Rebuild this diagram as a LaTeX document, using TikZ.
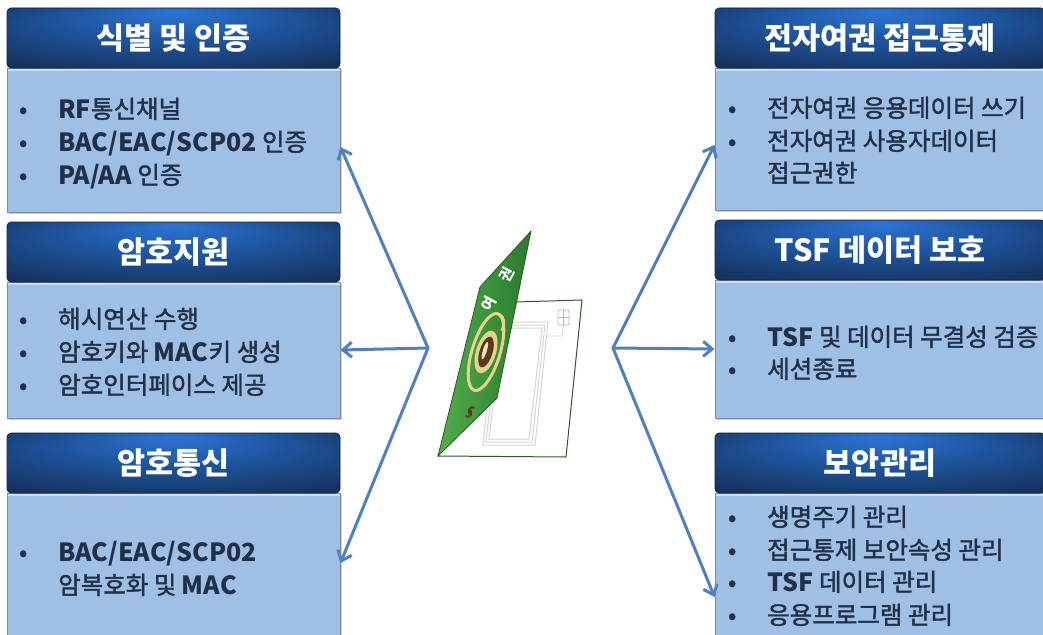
\documentclass[tikz,border=0pt]{standalone}
\usepackage{fontspec}
\setmainfont{Noto Sans CJK KR}
\newfontfamily\krm{Noto Sans CJK KR}[FakeBold=1.6]
\usetikzlibrary{arrows.meta,shadows}

\definecolor{hdEdge}{HTML}{15305A}
\definecolor{hdMid}{HTML}{2D74D2}
\definecolor{hdMid2}{HTML}{1F56A0}
\definecolor{bodyc}{HTML}{A0BFE5}
\definecolor{bodyhi}{HTML}{CADDF3}
\definecolor{bodyline}{HTML}{858A92}
\definecolor{txtc}{HTML}{1F3048}
\definecolor{arrc}{HTML}{4F81BD}
\definecolor{cvLight}{HTML}{52AD4C}
\definecolor{cvDark}{HTML}{2A7A2E}
\definecolor{cvEdge}{HTML}{2B5A22}
\definecolor{goldc}{HTML}{E6D38A}
\definecolor{brownc}{HTML}{5A3A1C}
\definecolor{framec}{HTML}{D4D4D4}

% glossy header: bright spot near the top centre, dark navy towards the rim
\pgfdeclareradialshading{hdshade}{\pgfpoint{0bp}{22bp}}{%
  color(0bp)=(hdMid); color(16bp)=(hdMid2); color(38bp)=(hdEdge); color(50bp)=(hdEdge)}

\newcommand\bu{\makebox[0pt]{\textbullet}\hspace*{35pt}}
\newcommand\ind{\hspace*{35pt}}
\newcommand\lt[1]{{\normalfont\bfseries\fontsize{25}{26}\selectfont #1}}

\tikzset{
  boxbody/.style={rectangle, draw=bodyline, line width=1pt, fill=bodyc, inner sep=0pt,
    minimum width=333pt, drop shadow={shadow xshift=1.5pt, shadow yshift=-1.5pt, opacity=0.4}},
  boxhead/.style={rectangle, rounded corners=4pt, draw=hdEdge!70!black, line width=0.6pt,
    shading=hdshade, minimum width=333pt, minimum height=60pt, inner sep=0pt,
    text=white, font=\bfseries\fontsize{30.5}{31}\selectfont, text height=26pt, text depth=3pt},
  ln/.style={anchor=base west, inner sep=0pt, text=txtc, font=\krm\fontsize{24.5}{25}\selectfont},
  arr/.style={draw=arrc, line width=3pt, line cap=round, line join=round,
    -{Straight Barb[length=9pt,width=15pt]}},
  hilite/.style={draw=bodyhi, line width=2pt},
  covertext/.style={rotate=62, text=white, inner sep=0pt, font=\bfseries\fontsize{15}{15}\selectfont},
}

\begin{document}
\begin{tikzpicture}[x=1pt, y=-1pt]
\useasboundingbox (0,0) rectangle (1043,634);
\clip (0,0) rectangle (1043,634);
\fill[white] (0,0) rectangle (1043,634);

% ---------- left column ----------
\node[boxbody, minimum height=144pt] (bL1) at (173.5,140) {};
\node[boxbody, minimum height=136pt] (bL2) at (173.5,350) {};
\node[boxbody, minimum height=147pt] (bL3) at (173.5,566.5) {};
\foreach \b in {bL1,bL2,bL3}
  \draw[hilite] ([xshift=1pt,yshift=-2pt]\b.north west) -- ([xshift=-1pt,yshift=-2pt]\b.north east);
\node[boxhead] (hL1) at (173.5,38) {식별 및 인증};
\node[boxhead] (hL2) at (173.5,252) {암호지원};
\node[boxhead] (hL3) at (173.5,463) {암호통신};

% ---------- right column ----------
\node[boxbody, minimum width=330pt, minimum height=142pt] (bR1) at (880,139) {};
\node[boxbody, minimum width=330pt, minimum height=138pt] (bR2) at (880,349) {};
\node[boxbody, minimum width=330pt, minimum height=147pt] (bR3) at (880,566.5) {};
\foreach \b in {bR1,bR2,bR3}
  \draw[hilite] ([xshift=1pt,yshift=-2pt]\b.north west) -- ([xshift=-1pt,yshift=-2pt]\b.north east);
\node[boxhead, minimum width=330pt] (hR1) at (880,38) {전자여권 접근통제};
\node[boxhead, minimum width=330pt] (hR2) at (880,250) {TSF 데이터 보호};
\node[boxhead, minimum width=330pt] (hR3) at (880,463) {보안관리};

% ---------- bullet lines ----------
\node[ln] (l1a) at (23,118) {\bu\lt{RF}통신채널};
\node[ln] (l1b) at (23,151) {\bu\lt{BAC/EAC/SCP02} 인증};
\node[ln] (l1c) at (23,184) {\bu\lt{PA/AA} 인증};

\node[ln] (l2a) at (23,328) {\bu 해시연산 수행};
\node[ln] (l2b) at (23,361) {\bu 암호키와 \lt{MAC}키 생성};
\node[ln] (l2c) at (23,394) {\bu 암호인터페이스 제공};

\node[ln] (l3a) at (23,561) {\bu\lt{BAC/EAC/SCP02}};
\node[ln] (l3b) at (23,594) {\ind 암복호화 및 \lt{MAC}};

\node[ln] (r1a) at (732,117) {\bu 전자여권 응용데이터 쓰기};
\node[ln] (r1b) at (732,150) {\bu 전자여권 사용자데이터};
\node[ln] (r1c) at (732,182) {\ind 접근권한};

\node[ln] (r2a) at (732,346) {\bu\lt{TSF} 및 데이터 무결성 검증};
\node[ln] (r2b) at (732,378) {\bu 세션종료};

\node[ln] (r3a) at (732,526) {\bu 생명주기 관리};
\node[ln] (r3b) at (732,559) {\bu 접근통제 보안속성 관리};
\node[ln] (r3c) at (732,591) {\bu\lt{TSF} 데이터 관리};
\node[ln] (r3d) at (732,624) {\bu 응용프로그램 관리};

% ---------- connectors ----------
\coordinate (hubL) at (428,348);
\coordinate (hubR) at (613,348);
\draw[arr] (hubL) -- ([yshift=-7pt]bL1.east);
\draw[arr] (hubL) -- (bL2.east);
\draw[arr] (hubL) -- ([yshift=3.5pt]bL3.east);
\draw[arr] (hubR) -- ([yshift=-6pt]bR1.west);
\draw[arr] (hubR) -- (bR2.west);
\draw[arr] (hubR) -- ([yshift=-30.5pt]bR3.west);

% ---------- e-passport ----------
% open inner page
\filldraw[fill=white, draw=cvEdge, line width=1pt]
  (438,456) -- (566,457) -- (582,300) -- (515,302) -- cycle;
% antenna loop
\foreach \d in {0,3,6}
  \draw[framec, line width=1pt]
    (483+\d,445-\d) -- (535-\d,445-\d) -- (548-\d,322+\d) -- (496+\d,322+\d) -- cycle;
% chip
\draw[gray!55, line width=0.8pt, rounded corners=1pt] (558,310) rectangle (569,325);
\draw[gray!55, line width=0.6pt] (563.5,310) -- (563.5,325) (558,317.5) -- (569,317.5);
\draw[framec, line width=0.8pt] (563.5,325) -- (562,336) -- (546,336);
% front cover
\path[left color=cvLight, right color=cvDark]
  (438,456) -- (480,287) -- (531,231) -- (497,398) -- cycle;
\draw[cvEdge, line width=0.8pt, line join=round]
  (438,456) -- (480,287) -- (531,231) -- (497,398) -- cycle;
% emblem
\begin{scope}[shift={(486,352)}, rotate=73]
  \draw[goldc, line width=3pt] (0,0) ellipse (40 and 14);
  \fill[goldc] (0,0) ellipse (22 and 10);
  \fill[brownc] (0,0) ellipse (16 and 6.5);
  \fill[goldc!60!white] (1,-1.5) ellipse (9 and 2);
\end{scope}
\draw[goldc, line width=2.5pt, line cap=round] (499,314) .. controls (505,317) and (505,324) .. (502,330);
% cover title, one glyph per node
\node[covertext] (ptA) at (489,304) {여};
\node[covertext] (ptB) at (507,275) {권};
% small mark near the bottom of the cover
\begin{scope}[shift={(470,412)}, rotate=62]
  \draw[brownc, line width=2pt] (-6,-2) arc (180:0:4) (6,2) arc (0:-180:4);
\end{scope}
\end{tikzpicture}
\end{document}
